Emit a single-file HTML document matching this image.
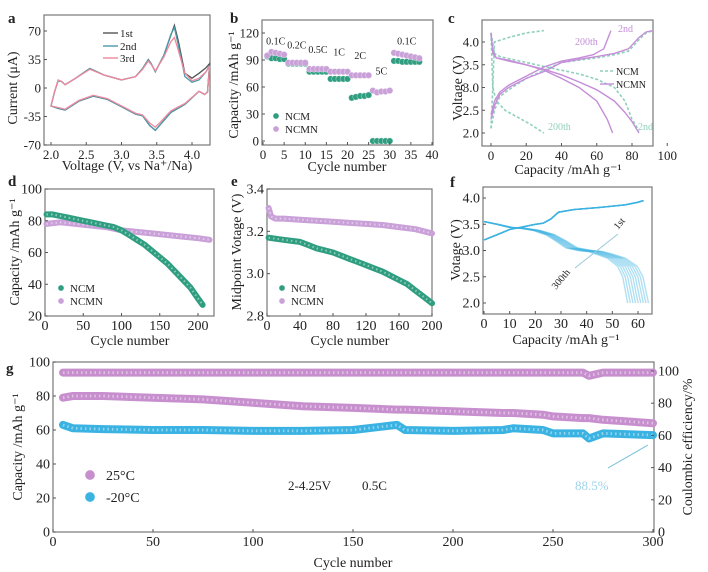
<!DOCTYPE html>
<html><head><meta charset="utf-8">
<style>
html,body{margin:0;padding:0;background:#fff;}
svg{display:block;font-family:"Liberation Serif",serif;}
</style></head>
<body>
<svg id="fig" width="708" height="572" viewBox="0 0 708 572" xmlns="http://www.w3.org/2000/svg"></svg>
<script>
// ===== panel a data (CV) =====
const cv1V = [2.0,2.05,2.1,2.15,2.2,2.35,2.55,2.75,3.0,3.2,3.3,3.38,3.42,3.48,3.6,3.7,3.75,3.8,3.9,4.0,4.1,4.2,4.25,4.22,4.18,4.1,3.9,3.7,3.55,3.48,3.4,3.3,3.2,3.0,2.8,2.6,2.4,2.2,2.1,2.0];
const cv1I = [-22,-5,9,8,4,12,24,16,10,14,24,35,30,20,40,65,77,60,18,12,18,25,30,-5,-8,-4,-20,-30,-45,-52,-46,-34,-32,-23,-14,-10,-16,-27,-25,-22];
const cv2I = [-22,-5,9,8,4,12,24,16,10,14,24,35,30,20,40,66,74,55,14,7,10,20,28,-5,-8,-4,-20,-30,-45,-52,-46,-34,-32,-23,-14,-10,-16,-27,-25,-22];
const cv3I = [-22,-5,10,8,4,12,23,16,10,14,23,33,29,21,38,57,62,48,18,9,12,20,27,-5,-8,-4,-19,-28,-42,-48,-43,-33,-31,-22,-13,-9,-15,-26,-24,-22];
// ===== panel b data (rate) =====
const rateCycles = [1,2,3,4,5,6,7,8,9,10,11,12,13,14,15,16,17,18,19,20,21,22,23,24,25,26,27,28,29,30,31,32,33,34,35,36,37];
const rateNCM  = [94,92,92,91,91,86,86,86,86,86,77,77,77,77,77,69,69,69,69,69,48,49,50,50,51,0,0,0,0,0,89,89,88,88,88,88,88];
const rateNCMN = [95,99,98,97,96,87,87,87,87,87,80,80,80,80,80,77,77,77,77,77,73,73,73,73,73,56,54,55,55,56,98,97,96,95,94,93,92];
const rateLabels = ["0.1C","0.2C","0.5C","1C","2C","5C","0.1C"];
const rateLabelX = [3,8,13,18,23,28,34];
const rateLabelY = [107,103,98,95,91,74,107];
// ===== panel c data (charge/discharge) =====
const cNcm2ChC = [0,2,5,10,20,30,40,50,60,70,78,84,88,92];
const cNcm2ChV = [2.1,2.5,2.8,2.95,3.2,3.38,3.55,3.6,3.65,3.72,3.8,4.05,4.2,4.25];
const cNcm2DcC = [0,2,5,20,35,50,60,70,76,80,84];
const cNcm2DcV = [4.2,3.75,3.68,3.55,3.42,3.3,3.18,3.0,2.7,2.3,2.05];
const cNcm200ChC = [0,1,2,10,20,30];
const cNcm200ChV = [2.1,3.0,4.0,4.1,4.2,4.25];
const cNcm200DcC = [0,0.5,1,3,8,15,22,30];
const cNcm200DcV = [4.2,3.6,3.0,2.7,2.5,2.35,2.2,2.0];
const cNcmn2ChC = [0,2,5,10,20,30,40,50,60,70,78,84,88,92];
const cNcmn2ChV = [2.3,2.6,2.85,3.0,3.2,3.35,3.55,3.62,3.68,3.75,3.85,4.1,4.22,4.25];
const cNcmn2DcC = [0,1,3,10,20,30,40,50,60,70,76,80,84];
const cNcmn2DcV = [4.2,3.8,3.65,3.6,3.5,3.4,3.28,3.12,2.95,2.7,2.45,2.25,2.0];
const cNcmn200ChC = [0,2,5,10,20,30,40,50,58,64,68];
const cNcmn200ChV = [2.4,2.7,2.9,3.05,3.25,3.45,3.58,3.65,3.72,3.85,4.25];
const cNcmn200DcC = [0,1,3,10,20,30,40,50,60,66,69];
const cNcmn200DcV = [4.2,3.75,3.65,3.58,3.5,3.38,3.2,3.0,2.7,2.3,2.0];
// ===== panel d data =====
const dNcmCyc = [2,10,20,30,40,50,60,70,80,90,100,110,120,130,140,150,160,170,180,190,200,206];
const dNcmVal = [84,84,83,82,81,80,79,78,77,76,74,71,68,65,61,57,53,48,43,38,31,27];
const dNcmnCyc = [2,20,40,60,80,100,120,140,160,180,200,215];
const dNcmnVal = [78,79,78,77,76,74,73,72,71,70,69,68];
// ===== panel e data =====
const eNcmCyc = [2,10,20,30,40,50,60,70,80,90,100,110,120,130,140,150,160,170,180,190,200];
const eNcmVal = [3.17,3.165,3.16,3.155,3.15,3.135,3.12,3.11,3.10,3.085,3.07,3.055,3.04,3.025,3.01,2.99,2.97,2.95,2.92,2.89,2.86];
const eNcmnCyc = [2,5,10,20,40,60,80,100,120,140,160,180,200];
const eNcmnVal = [3.31,3.27,3.26,3.26,3.255,3.25,3.245,3.24,3.235,3.23,3.22,3.21,3.19];
// ===== panel f data =====
const fChC = [0,5,10,15,20,23,26,29,35,45,55,60,62];
const fChV = [3.2,3.3,3.4,3.45,3.5,3.52,3.6,3.73,3.78,3.82,3.87,3.92,3.95];
const fDcC = [0,5,10,15,20,25,29,33,38,42,46,50,54,56,57,58];
const fDcV = [3.55,3.5,3.44,3.42,3.38,3.3,3.18,3.05,3.0,2.98,2.92,2.85,2.7,2.5,2.25,2.0];
const fCycleEndCap = [63,62,61,60,59,58,57,56,55];
// ===== panel g data =====
const gCyc = [5,10,25,50,75,100,125,150,172,176,200,225,230,245,250,265,268,275,300];
const gCap25 = [79,80,80,79,78,76,74,73,72,72,71,70,70,69,68,67,67,66,64];
const gCapM20 = [63,61,60.5,60,60,59.5,59.5,60,63,60,59.5,60,61,60,58,58,55,58,57];
const gCE = [99,99,99,99,99,99,99,99,99,99,99,99,99,99,99,99,97,99,99];

const svg = document.getElementById('fig');
const NS = 'http://www.w3.org/2000/svg';
function el(tag, attrs, parent){const e=document.createElementNS(NS,tag);for(const k in attrs)e.setAttribute(k,attrs[k]);(parent||svg).appendChild(e);return e;}
function lin(d0,d1,r0,r1){return v=>r0+(v-d0)*(r1-r0)/(d1-d0);}
function txt(s,x,y,opt){const t=el('text',Object.assign({x:x,y:y,'font-size':13,fill:'#222'},opt||{}));t.textContent=s;return t;}
function pathOf(xs,ys,sx,sy){return xs.map((v,i)=>(i?'L':'M')+sx(v).toFixed(1)+','+sy(ys[i]).toFixed(1)).join(' ');}

function frame(name,x0,y0,x1,y1){
  const r=el('rect',{x:x0,y:y0,width:x1-x0,height:y1-y0,fill:'none',stroke:'#777','stroke-width':1.2});
  
  
}
function xTicks(name,vals,labels,sx,y,fs){
  vals.forEach((v,i)=>{
    const l=el('line',{x1:sx(v),x2:sx(v),y1:y,y2:y-3,stroke:'#555'});
    
    
    const t=txt(labels[i],sx(v),y+14,{'text-anchor':'middle','font-size':fs||13});
    
    
  });
}
function yTicks(name,vals,labels,sy,x,fs,right){
  vals.forEach((v,i)=>{
    const l=el('line',{x1:x,x2:right?x-3:x+3,y1:sy(v),y2:sy(v),stroke:'#555'});
    
    
    const t=txt(labels[i],right?x+4:x-3,sy(v)+4.5,{'text-anchor':right?'start':'end','font-size':fs||13});
    
    
  });
}
function yTitle(name,s,x,cy,rot){
  const t=txt(s,x,cy,{'text-anchor':'middle','font-size':14,transform:'rotate('+(rot||-90)+' '+x+' '+cy+')'});
  
  
}
function xTitle(name,s,cx,y){
  const t=txt(s,cx,y,{'text-anchor':'middle','font-size':14});
  
  
}
function letter(s,x,y){
  const t=txt(s,x,y,{'font-size':15,'font-weight':'bold'});
  
  
}
function beadLine(name,xs,ys,sx,sy,col,w){
  const d=pathOf(xs,ys,sx,sy);
  const p=el('path',{d:d,fill:'none',stroke:col,'stroke-width':w,'stroke-linejoin':'round','stroke-linecap':'round'});
  
  
  const h=el('path',{d:d,fill:'none',stroke:'#fff','stroke-opacity':0.45,'stroke-width':w*0.35,'stroke-dasharray':'1.5 3'});
  
  
}
function dot(name,x,y,col,r){
  const c=el('circle',{cx:x,cy:y,r:r,fill:col,stroke:'#fff','stroke-opacity':0.5,'stroke-width':0.6});
  
  
}

const TEAL='#2f9e80', LIL='#c9a0d8', PINK25='#c78fce', BLUE='#3ab2e2';

// ===== Panel a =====
(function(){
  const sx=lin(2,4,51,192), sy=lin(0,70,88,31);
  frame('panel-a',44,15,210,145);
  letter('a',8,23);
  [[cv1I,'#555','cv-1st'],[cv2I,'#4c9aaa','cv-2nd'],[cv3I,'#f0899f','cv-3rd']].forEach(s=>{
    const p=el('path',{d:pathOf(cv1V,s[0],sx,sy)+' Z',fill:'none',stroke:s[1],'stroke-width':1.3});
    
    
  });
  xTicks('panel-a',[2,2.5,3,3.5,4],['2.0','2.5','3.0','3.5','4.0'],sx,145);
  yTicks('panel-a',[70,35,0,-35,-70],['70','35','0','-35','-70'],sy,44);
  xTitle('panel-a-x-title','Voltage (V, vs Na⁺/Na)',127,170);
  yTitle('panel-a-y-title','Current (μA)',17,88);
  [['1st','#555',33],['2nd','#4c9aaa',46],['3rd','#f0899f',58]].forEach(l=>{
    const ln=el('line',{x1:103,x2:118,y1:l[2],y2:l[2],stroke:l[1],'stroke-width':1.4});
    
    
    const t=txt(l[0],120,l[2]+4,{'font-size':11});
    
    
  });
})();

// ===== Panel b =====
(function(){
  const sx=lin(0,40,263,432), sy=lin(0,120,141,33);
  frame('panel-b',262,20,433,145);
  letter('b',230,23);
  rateCycles.forEach((c,i)=>{
    dot('ncm-rate-point',sx(c),sy(rateNCM[i]),TEAL,3.2);
  });
  rateCycles.forEach((c,i)=>{
    dot('ncmn-rate-point',sx(c),sy(rateNCMN[i]),LIL,3.2);
  });
  rateLabels.forEach((s,i)=>{
    const t=txt(s,sx(rateLabelX[i]),sy(rateLabelY[i]),{'text-anchor':'middle','font-size':10});
    
    
  });
  xTicks('panel-b',[0,5,10,15,20,25,30,35,40],['0','5','10','15','20','25','30','35','40'],sx,145);
  yTicks('panel-b',[0,30,60,90,120],['0','30','60','90','120'],sy,262);
  xTitle('panel-b-x-title','Cycle number',347,171);
  yTitle('panel-b-y-title','Capacity /mAh g⁻¹',238,85);
  dot('legend-ncm-marker',276,116,TEAL,3);
  dot('legend-ncmn-marker',276,129,LIL,3);
  let t=txt('NCM',285,120,{'font-size':11});
  
  
  t=txt('NCMN',285,133,{'font-size':11});
  
  
})();

// ===== Panel c =====
(function(){
  const sx=lin(0,80,491,632), sy=lin(2,4,133,42);
  frame('panel-c',482,20,653,146);
  letter('c',448,23);
  const dashed={fill:'none',stroke:'#8fd0bd','stroke-width':1.6,'stroke-dasharray':'3 2'};
  const solid={fill:'none',stroke:'#c58ed8','stroke-width':1.4};
  [[cNcm2ChC,cNcm2ChV,dashed,'ncm-2nd-charge'],[cNcm2DcC,cNcm2DcV,dashed,'ncm-2nd-discharge'],
   [cNcm200ChC,cNcm200ChV,dashed,'ncm-200th-charge'],[cNcm200DcC,cNcm200DcV,dashed,'ncm-200th-discharge'],
   [cNcmn2ChC,cNcmn2ChV,solid,'ncmn-2nd-charge'],[cNcmn2DcC,cNcmn2DcV,solid,'ncmn-2nd-discharge'],
   [cNcmn200ChC,cNcmn200ChV,solid,'ncmn-200th-charge'],[cNcmn200DcC,cNcmn200DcV,solid,'ncmn-200th-discharge']].forEach(s=>{
    const p=el('path',Object.assign({d:pathOf(s[0],s[1],sx,sy)},s[2]));
    
    
  });
  xTicks('panel-c',[0,20,40,60,80,100],['0','20','40','60','80','100'],sx,146);
  yTicks('panel-c',[2,2.5,3,3.5,4],['2.0','2.5','3.0','3.5','4.0'],sy,482);
  xTitle('panel-c-x-title','Capacity /mAh g⁻¹',568,174);
  yTitle('panel-c-y-title','Voltage (V)',462,88);
  [['2nd',618,32,'#c58ed8'],['200th',575,45,'#c58ed8'],['200th',548,130,'#8fd0bd'],['2nd',638,130,'#8fd0bd']].forEach(a=>{
    const t=txt(a[0],a[1],a[2],{'font-size':10,fill:a[3]});
    
    
  });
  let l=el('line',{x1:600,x2:614,y1:71,y2:71,stroke:'#8fd0bd','stroke-width':1.6,'stroke-dasharray':'3 2'});
  
  
  l=el('line',{x1:600,x2:614,y1:84,y2:84,stroke:'#c58ed8','stroke-width':1.4});
  
  
  let t=txt('NCM',616,75,{'font-size':10});
  
  
  t=txt('NCMN',616,88,{'font-size':10});
  
  
})();

// ===== Panel d =====
(function(){
  const sx=lin(0,200,45,198), sy=lin(20,100,316,189);
  frame('panel-d',45,189,214,316);
  letter('d',8,186);
  beadLine('ncmn-capacity-series',dNcmnCyc,dNcmnVal,sx,sy,LIL,6);
  beadLine('ncm-capacity-series',dNcmCyc,dNcmVal,sx,sy,TEAL,6);
  xTicks('panel-d',[0,50,100,150,200],['0','50','100','150','200'],sx,316,14);
  yTicks('panel-d',[20,40,60,80,100],['20','40','60','80','100'],sy,45,14);
  xTitle('panel-d-x-title','Cycle number',130,345);
  yTitle('panel-d-y-title','Capacity /mAh g⁻¹',19,252);
  dot('legend-ncm-marker',61,288,TEAL,3);
  dot('legend-ncmn-marker',61,301,LIL,3);
  let t=txt('NCM',70,292,{'font-size':11});
  
  
  t=txt('NCMN',70,305,{'font-size':11});
  
  
})();

// ===== Panel e =====
(function(){
  const sx=lin(0,200,267,432), sy=lin(2.8,3.4,316,189);
  frame('panel-e',267,189,432,316);
  letter('e',231,186);
  beadLine('ncmn-midpoint-series',eNcmnCyc,eNcmnVal,sx,sy,LIL,6);
  beadLine('ncm-midpoint-series',eNcmCyc,eNcmVal,sx,sy,TEAL,6);
  xTicks('panel-e',[0,40,80,120,160,200],['0','40','80','120','160','200'],sx,316,14);
  yTicks('panel-e',[2.8,3.0,3.2,3.4],['2.8','3.0','3.2','3.4'],sy,267,14);
  xTitle('panel-e-x-title','Cycle number',350,345);
  yTitle('panel-e-y-title','Midpoint Votage (V)',241,252);
  dot('legend-ncm-marker',282,288,TEAL,3);
  dot('legend-ncmn-marker',282,301,LIL,3);
  let t=txt('NCM',291,292,{'font-size':11});
  
  
  t=txt('NCMN',291,305,{'font-size':11});
  
  
})();

// ===== Panel f =====
(function(){
  const sx=lin(0,60,484,638), sy=lin(2,4,303,198);
  frame('panel-f',483,187,652,314);
  letter('f',450,187);
  fCycleEndCap.forEach((cap,k)=>{
    const s=cap/57;
    const p=el('path',{d:pathOf(fChC.map(c=>c*(0.96+0.04*s)),fChV,sx,sy),fill:'none',stroke:BLUE,'stroke-opacity':0.4,'stroke-width':1.4});
    
    
    const q=el('path',{d:pathOf(fDcC.map(c=>c*s),fDcV,sx,sy),fill:'none',stroke:BLUE,'stroke-opacity':0.4,'stroke-width':1.4});
    
    
  });
  xTicks('panel-f',[0,10,20,30,40,50,60],['0','10','20','30','40','50','60'],sx,314,14);
  yTicks('panel-f',[2,2.5,3,3.5,4],['2.0','2.5','3.0','3.5','4.0'],sy,483,14);
  xTitle('panel-f-x-title','Capacity /mAh g⁻¹',566,344);
  yTitle('panel-f-y-title','Votage (V)',460,250);
  const a=el('line',{x1:618,y1:234,x2:575,y2:268,stroke:'#9cc9dc','stroke-width':1});
  
  
  let t=txt('1st',618,230,{'font-size':10,transform:'rotate(-50 618 230)'});
  
  
  t=txt('300th',556,290,{'font-size':10,transform:'rotate(-50 556 290)'});
  
  
})();

// ===== Panel g =====
(function(){
  const sx=lin(0,300,53,653), sy=lin(0,100,532,362), syR=lin(0,100,532,371);
  frame('panel-g',53,362,654,532);
  letter('g',6,373);
  beadLine('coulombic-efficiency-series',gCyc,gCE,sx,syR,PINK25,8);
  beadLine('capacity-25c-series',gCyc,gCap25,sx,sy,PINK25,8);
  beadLine('capacity-minus20c-series',gCyc,gCapM20,sx,sy,BLUE,8);
  xTicks('panel-g',[0,50,100,150,200,250,300],['0','50','100','150','200','250','300'],sx,532,14);
  yTicks('panel-g',[0,20,40,60,80,100],['0','20','40','60','80','100'],sy,53,14);
  yTicks('panel-g-right',[0,20,40,60,80,100],['0','20','40','60','80','100'],syR,654,14,true);
  xTitle('panel-g-x-title','Cycle number',353,567);
  yTitle('panel-g-y-title','Capacity /mAh g⁻¹',22,447);
  yTitle('panel-g-right-y-title','Coulombic efficiency/%',692,447,-90);
  dot('legend-25c-marker',90,475,PINK25,5);
  dot('legend-minus20c-marker',90,497,BLUE,5);
  let t=txt('25°C',106,480,{'font-size':14});
  
  
  t=txt('-20°C',106,502,{'font-size':14});
  
  
  t=txt('2-4.25V',288,490,{'font-size':13});
  
  
  t=txt('0.5C',362,490,{'font-size':13});
  
  
  t=txt('88.5%',575,490,{'font-size':13,fill:'#9fd3ea'});
  
  
  const a=el('line',{x1:648,y1:445,x2:608,y2:468,stroke:'#6fbcd8','stroke-width':1});
  
  
})();
</script>
</body></html>
